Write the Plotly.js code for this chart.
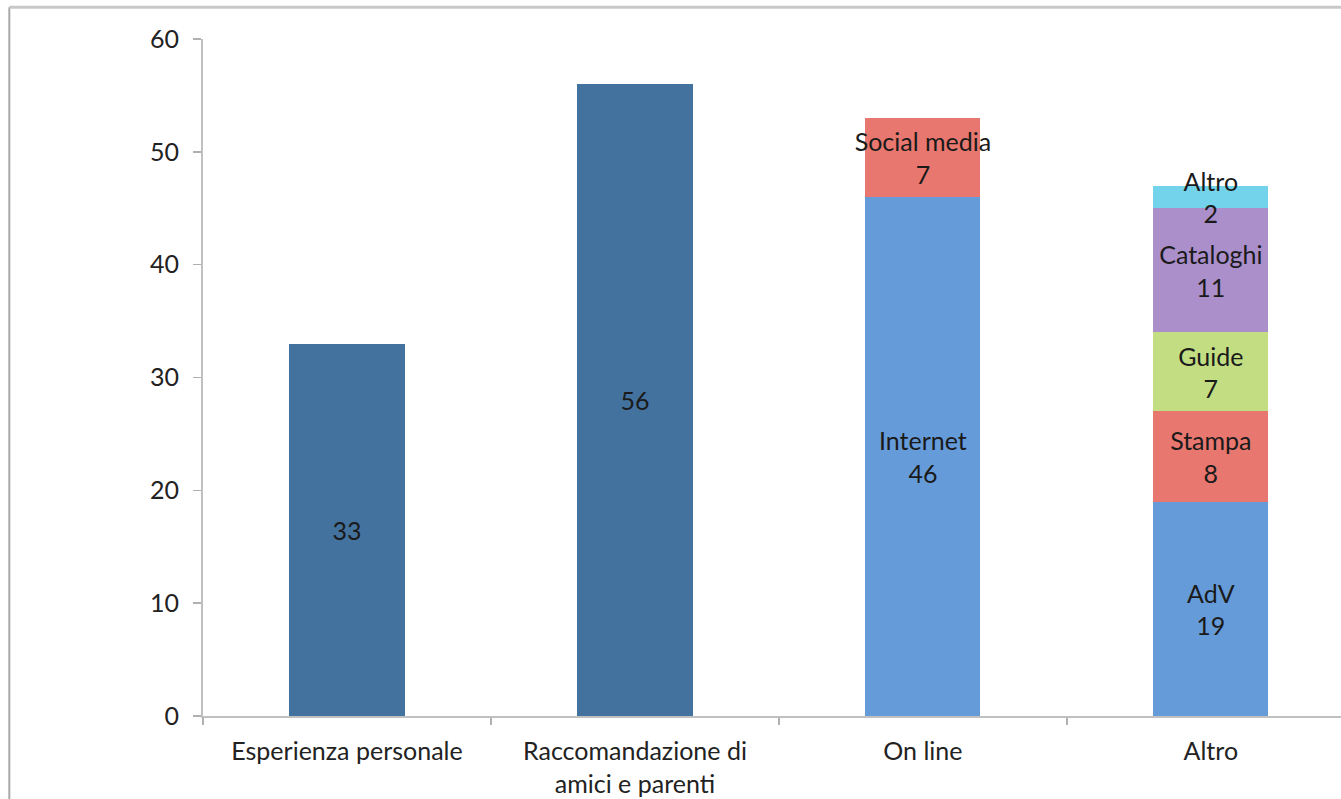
<!DOCTYPE html>
<html>
<head>
<meta charset="utf-8">
<script src="https://cdn.plot.ly/plotly-3.0.1.min.js"></script>
<style>
html, body { margin: 0; padding: 0; background: #ffffff; overflow: hidden; }
#chart { width: 1341px; height: 799px; }
</style>
</head>
<body>
<div id="chart"></div>
<script>
// ---- data ----
var categories = ["Esperienza personale", "Raccomandazione di<br>amici e parenti", "On line", "Altro"];
var tickValues = [0, 10, 20, 30, 40, 50, 60];

var baseValues      = [33, 56, null, null];
var level1Values    = [null, null, 46, 19];
var level1Labels    = ["", "", "Internet", "AdV"];
var level2Values    = [null, null, 7, 8];
var level2Labels    = ["", "", "Social media", "Stampa"];
var guideValues     = [null, null, null, 7];
var guideLabels     = ["", "", "", "Guide"];
var catalogValues   = [null, null, null, 11];
var catalogLabels   = ["", "", "", "Cataloghi"];
var otherValues     = [null, null, null, 2];
var otherLabels     = ["", "", "", "Altro"];

// ---- style ----
var FONT = "Lato, 'Open Sans', sans-serif";
var textFont = { family: FONT, size: 25, color: "#1a1a1a" };

function seg(values, labels, color, withName) {
  return {
    type: "bar",
    x: categories,
    y: values,
    text: labels,
    texttemplate: withName ? "%{text}<br>%{y}" : "%{y}",
    textposition: "inside",
    insidetextanchor: "middle",
    textangle: 0,
    constraintext: "none",
    cliponaxis: false,
    insidetextfont: textFont,
    textfont: textFont,
    marker: { color: color, line: { width: 0 } },
    hoverinfo: "skip"
  };
}

var traces = [
  seg(baseValues, ["", "", "", ""], "#44729f", false),
  seg(level1Values, level1Labels, "#659bd9", true),
  seg(level2Values, level2Labels, "#e8776f", true),
  seg(guideValues, guideLabels, "#c3de82", true),
  seg(catalogValues, catalogLabels, "#aa8fcb", true),
  seg(otherValues, otherLabels, "#72d3ea", true)
];

var layout = {
  width: 1341,
  height: 799,
  margin: { l: 203, r: 0, t: 39, b: 83 },
  paper_bgcolor: "#ffffff",
  plot_bgcolor: "#ffffff",
  barmode: "stack",
  bargap: 0.6,
  showlegend: false,
  hovermode: false,
  font: { family: FONT, size: 25, color: "#333333" },
  xaxis: {
    type: "category",
    range: [-0.5, 3.452],
    showgrid: false,
    zeroline: false,
    showline: true,
    linecolor: "#c0c0c0",
    linewidth: 2,
    ticks: "outside",
    tickson: "boundaries",
    ticklen: 7,
    tickwidth: 1.5,
    tickcolor: "#b0b0b0",
    ticklabelstandoff: 12,
    tickfont: { family: FONT, size: 25, color: "#222222" }
  },
  yaxis: {
    range: [0, 60],
    tickvals: tickValues,
    showgrid: false,
    zeroline: false,
    showline: true,
    linecolor: "#c0c0c0",
    linewidth: 2,
    ticks: "outside",
    ticklen: 8,
    tickwidth: 1.5,
    tickcolor: "#b0b0b0",
    ticklabelstandoff: 9,
    tickfont: { family: FONT, size: 25, color: "#222222" }
  },
  shapes: [
    { type: "line", xref: "paper", yref: "paper", x0: -0.1702, x1: -0.1702, y0: -0.3, y1: 1.047,
      line: { color: "#a8a8a8", width: 2 } },
    { type: "line", xref: "paper", yref: "paper", x0: -0.1702, x1: 1.1, y0: 1.047, y1: 1.047,
      line: { color: "#c8c8c8", width: 3 } }
  ]
};

Plotly.newPlot("chart", traces, layout, { displayModeBar: false, staticPlot: true });
</script>
</body>
</html>
